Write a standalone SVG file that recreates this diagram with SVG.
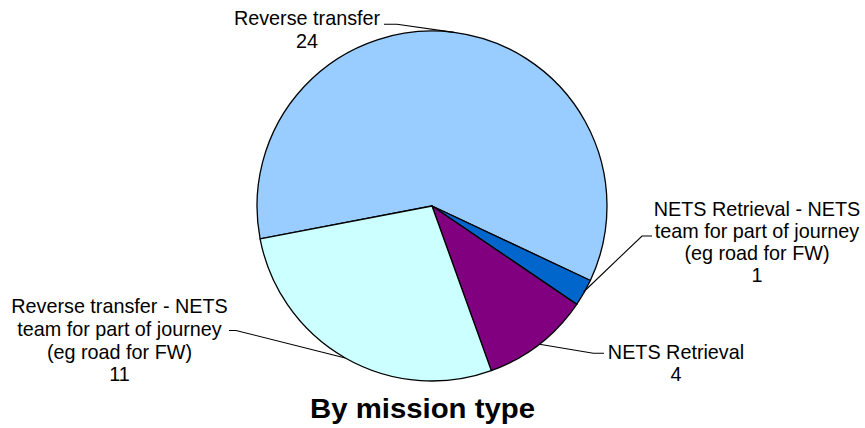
<svg xmlns="http://www.w3.org/2000/svg" width="865" height="428" viewBox="0 0 865 428">
<style>
.slice{stroke:#000;stroke-width:1.3;stroke-linejoin:round}
.lbl{font-family:"Liberation Sans",Arial,sans-serif;font-size:19.8px;fill:#000;text-anchor:middle}
.title{font-family:"Liberation Sans",Arial,sans-serif;font-size:27px;font-weight:bold;fill:#000;text-anchor:middle}
.leader{fill:none;stroke:#000;stroke-width:1.1}
</style>
<rect width="865" height="428" fill="#fff"/>
<g id="slice-reverse-transfer">
<path class="slice" fill="#99CCFF" d="M432,206 L260.10,238.79 A175,175 0 1 1 590.35,280.51 Z"/>
</g>
<g id="slice-nets-retrieval-part">
<path class="slice" fill="#0066CC" d="M432,206 L590.35,280.51 A175,175 0 0 1 576.74,304.36 Z"/>
</g>
<g id="slice-nets-retrieval">
<path class="slice" fill="#800080" d="M432,206 L576.74,304.36 A175,175 0 0 1 491.28,370.65 Z"/>
</g>
<g id="slice-reverse-transfer-part">
<path class="slice" fill="#CCFFFF" d="M432,206 L491.28,370.65 A175,175 0 0 1 260.10,238.79 Z"/>
</g>
<g id="connectors">
<polyline class="leader" points="384,24.3 397,24.3 454,32.4"/>
<polyline class="leader" points="652,236 642,236 583.5,292"/>
<polyline class="leader" points="604,353.3 593.3,353.3 539.5,344.3"/>
<polyline class="leader" points="229,330.5 236,330.5 345.3,358"/>
</g>
<g id="label-reverse-transfer">
<text class="lbl" x="307" y="25">Reverse transfer</text>
<text class="lbl" x="307" y="47.5">24</text>
</g>
<g id="label-nets-retrieval-part">
<text class="lbl" x="757" y="215.5">NETS Retrieval - NETS</text>
<text class="lbl" x="757" y="237.7">team for part of journey</text>
<text class="lbl" x="757" y="260">(eg road for FW)</text>
<text class="lbl" x="757" y="282.3">1</text>
</g>
<g id="label-nets-retrieval">
<text class="lbl" x="676" y="358.5">NETS Retrieval</text>
<text class="lbl" x="676" y="381">4</text>
</g>
<g id="label-reverse-transfer-part">
<text class="lbl" x="119.5" y="313.3">Reverse transfer - NETS</text>
<text class="lbl" x="119.5" y="336">team for part of journey</text>
<text class="lbl" x="119.5" y="358.5">(eg road for FW)</text>
<text class="lbl" x="119.5" y="381">11</text>
</g>
<g id="title">
<text class="title" x="422.5" y="418" textLength="225" lengthAdjust="spacingAndGlyphs">By mission type</text>
</g>
</svg>
